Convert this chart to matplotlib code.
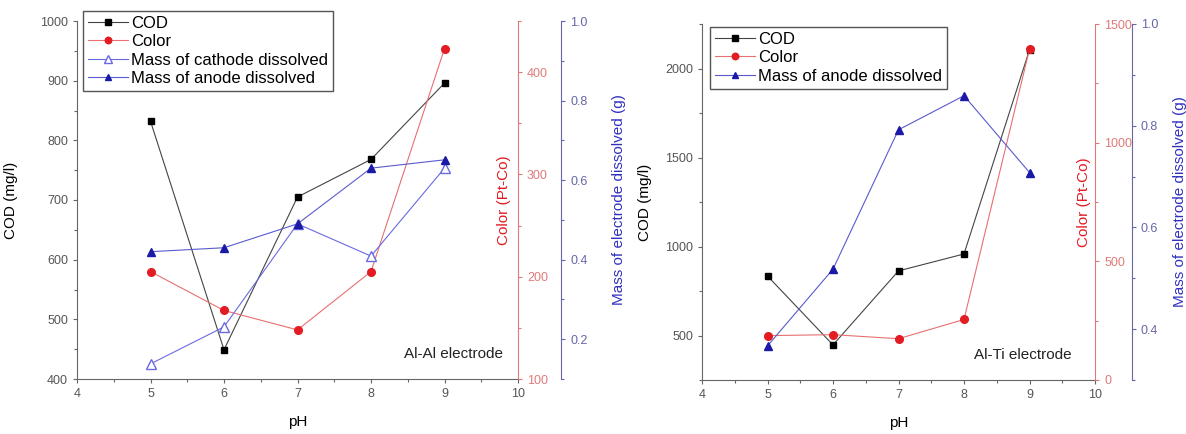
import matplotlib
matplotlib.use("Agg")
import matplotlib.pyplot as plt
from matplotlib.ticker import MultipleLocator, FormatStrFormatter

plt.rcParams['font.family'] = ['Liberation Sans', 'DejaVu Sans']

# ---------------- data ----------------
ph = [5, 6, 7, 8, 9]

# Al-Al electrode
alal_cod = [832, 449, 705, 768, 896]
alal_color = [205, 167, 148, 205, 423]
alal_cathode = [0.138, 0.231, 0.49, 0.409, 0.63]
alal_anode = [0.42, 0.43, 0.49, 0.63, 0.651]

# Al-Ti electrode
alti_cod = [834, 447, 863, 958, 2105]
alti_color = [187, 191, 174, 255, 1394]
alti_anode = [0.367, 0.518, 0.792, 0.859, 0.708]

legend_labels_left = ["COD", "Color", "Mass of cathode dissolved", "Mass of anode dissolved"]
legend_labels_right = ["COD", "Color", "Mass of anode dissolved"]

# ---------------- style ----------------
C_COD = "black"
C_COD_LINE = "#444444"
C_RED = "#e31b23"
C_RED_LINE = "#e87070"
C_RED_SPINE = "#e07a7a"
C_BLUE_M = "#1a1aa6"
C_BLUE_LINE = "#5a5ad0"
C_BLUE_OPEN = "#6a6ae0"
C_BLUE_SPINE = "#6666a8"
C_BLUE_LABEL = "#3030c0"
C_TICK = "#555555"
MS = 5

fig = plt.figure(figsize=(11.86, 4.34), dpi=100)


def style_axis(ax, color, side):
    ax.tick_params(axis='y', which='both', direction='out', colors=color,
                   labelsize=9, length=3, width=0.8)
    ax.tick_params(axis='y', which='minor', length=2)
    ax.spines[side].set_color(color)


def make_panel(rect, cod, color, masses, mass_styles, cod_lim, cod_major, cod_minor,
               color_lim, color_major, color_minor, mass_lim, mass_ticks,
               blue_off, text, text_pos, leg_anchor, labels, label_x):
    ax = fig.add_axes(rect)
    ax.set_xlim(4, 10)
    ax.set_ylim(*cod_lim)
    ax.xaxis.set_major_locator(MultipleLocator(1))
    ax.xaxis.set_minor_locator(MultipleLocator(0.5))
    ax.yaxis.set_major_locator(MultipleLocator(cod_major))
    ax.yaxis.set_minor_locator(MultipleLocator(cod_minor))
    for s in ['top', 'right']:
        ax.spines[s].set_visible(False)
    for s in ['left', 'bottom']:
        ax.spines[s].set_color("#666666")
    ax.tick_params(axis='both', which='both', direction='out', colors="#666666",
                   labelcolor=C_TICK, labelsize=9, length=3, width=0.8)
    ax.tick_params(axis='both', which='minor', length=2)

    ax.set_xlabel("pH", fontsize=11)
    ax.xaxis.set_label_coords(0.5, -0.1)
    ax.set_ylabel("COD (mg/l)", fontsize=11)
    ax.yaxis.set_label_coords(label_x[0], 0.5)

    h1, = ax.plot(ph, cod, color=C_COD_LINE, lw=0.8, marker='s', ms=MS,
                  mfc=C_COD, mec=C_COD)

    ax2 = ax.twinx()
    ax2.set_ylim(*color_lim)
    ax2.yaxis.set_major_locator(MultipleLocator(color_major))
    ax2.yaxis.set_minor_locator(MultipleLocator(color_minor))
    for s in ['top', 'left', 'bottom']:
        ax2.spines[s].set_visible(False)
    style_axis(ax2, C_RED_SPINE, 'right')
    ax2.tick_params(axis='y', labelcolor=C_RED_SPINE)
    ax2.set_ylabel("Color (Pt-Co)", fontsize=11, color=C_RED)
    ax2.yaxis.set_label_coords(label_x[1], 0.5)
    h2, = ax2.plot(ph, color, color=C_RED_LINE, lw=0.8, marker='o', ms=MS + 0.5,
                   mfc=C_RED, mec=C_RED)

    ax3 = ax.twinx()
    ax3.spines['right'].set_position(('axes', blue_off))
    ax3.set_ylim(*mass_lim)
    ax3.set_yticks(mass_ticks)
    ax3.yaxis.set_minor_locator(MultipleLocator(0.1))
    ax3.yaxis.set_major_formatter(FormatStrFormatter('%.1f'))
    for s in ['top', 'left', 'bottom']:
        ax3.spines[s].set_visible(False)
    style_axis(ax3, C_BLUE_SPINE, 'right')
    ax3.tick_params(axis='y', labelcolor=C_BLUE_SPINE)
    ax3.set_ylabel("Mass of electrode dissolved (g)", fontsize=11, color=C_BLUE_LABEL)
    ax3.yaxis.set_label_coords(label_x[2], 0.5)
    handles = [h1, h2]
    for vals, (mk, filled) in zip(masses, mass_styles):
        if filled:
            h, = ax3.plot(ph, vals, color=C_BLUE_LINE, lw=0.8, marker=mk, ms=MS + 0.5,
                          mfc=C_BLUE_M, mec=C_BLUE_M)
        else:
            h, = ax3.plot(ph, vals, color=C_BLUE_OPEN, lw=0.8, marker=mk, ms=MS + 1.5,
                          mfc='white', mec=C_BLUE_OPEN)
        handles.append(h)

    ax3.text(text_pos[0], text_pos[1], text, transform=ax.transAxes, fontsize=11,
             ha='right', va='center', color='#222222')

    leg = ax3.legend(handles, labels, loc='upper left', bbox_to_anchor=leg_anchor,
                     bbox_transform=ax.transAxes, borderaxespad=0, fontsize=12,
                     handlelength=2.4, handletextpad=0.2, labelspacing=0.2,
                     borderpad=0.3, fancybox=False, framealpha=1, edgecolor='#555555',
                     markerscale=0.85)
    leg.get_frame().set_linewidth(1.0)
    return ax


make_panel([77 / 1186, 55 / 434, 441 / 1186, 358 / 434],
           alal_cod, alal_color, [alal_cathode, alal_anode], [('^', False), ('^', True)],
           (400, 1000), 100, 50, (100, 450), 100, 50, (0.1, 1.0),
           [0.2, 0.4, 0.6, 0.8, 1.0], 1.098, "Al-Al electrode", (0.965, 0.07),
           (0.0136, 1.028), legend_labels_left, (-0.134, 0.952, 1.213))

make_panel([702 / 1186, 54 / 434, 393 / 1186, 356 / 434],
           alti_cod, alti_color, [alti_anode], [('^', True)],
           (250, 2250), 500, 250, (0, 1500), 500, 250, (0.3, 1.0),
           [0.4, 0.6, 0.8, 1.0], 1.094, "Al-Ti electrode", (0.94, 0.07),
           (0.02, 0.992), legend_labels_right, (-0.127, 0.954, 1.198))

fig.savefig("out.png", dpi=100)
